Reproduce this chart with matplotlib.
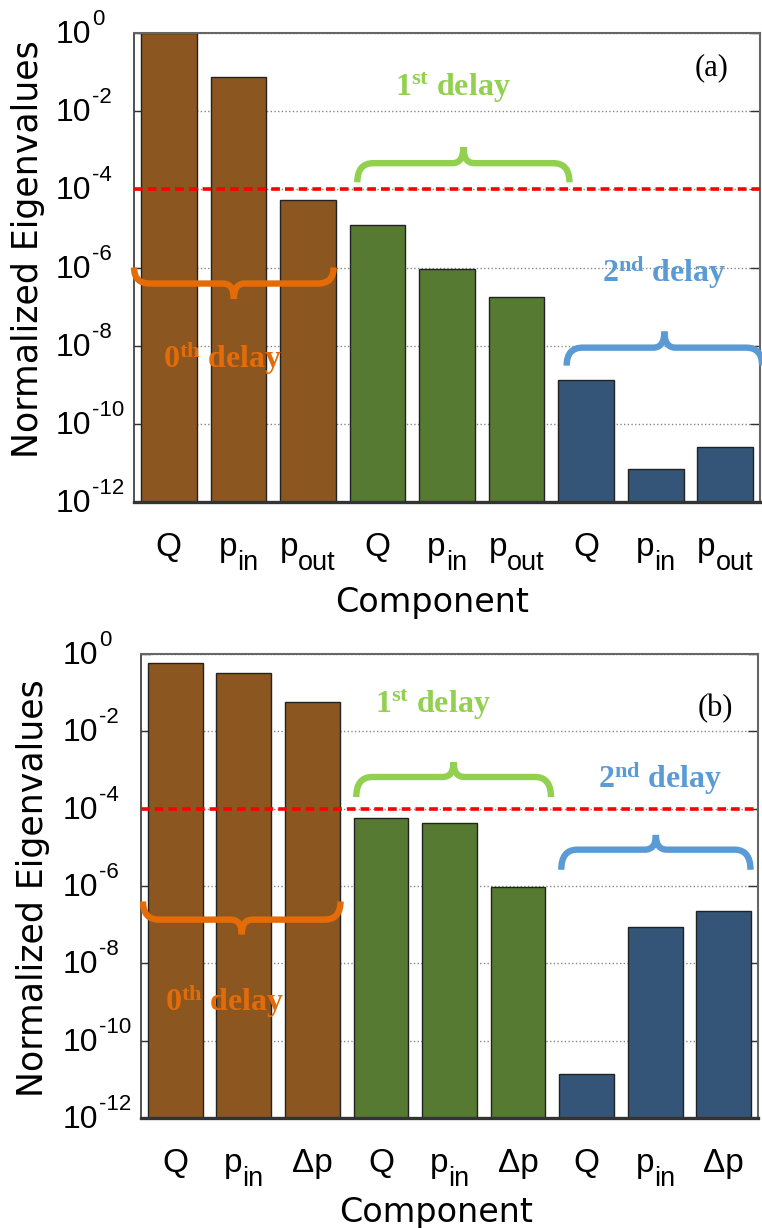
import numpy as np
import matplotlib.pyplot as plt
from matplotlib.path import Path
from matplotlib.patches import PathPatch
from matplotlib.ticker import NullLocator
from matplotlib.transforms import blended_transform_factory, offset_copy

# normalized eigenvalues per component, three delay groups of three
base_a = ['Q', 'p', 'p'] * 3
sub_a = ['', 'in', 'out'] * 3
base_b = ['Q', 'p', 'Δp'] * 3
sub_b = ['', 'in', ''] * 3
eig_a = [1.0, 7.4e-2, 5.5e-5, 1.2e-5, 9.4e-7, 1.8e-7, 1.35e-9, 7.0e-12, 2.5e-11]
eig_b = [0.6, 0.33, 0.056, 5.7e-5, 4.3e-5, 9.5e-7, 1.4e-11, 8.9e-8, 2.3e-7]
threshold = 1e-4
exponents = [0, -2, -4, -6, -8, -10, -12]

bar_colors = ['#8b561f'] * 3 + ['#577a32'] * 3 + ['#345577'] * 3
orange, lgreen, lblue = '#e36c09', '#92d050', '#5b9bd5'

SANS = 'Liberation Sans'
SERIF = 'Liberation Serif'


def brace(ax, x0, x1, y_end, y_bar, y_tip, color, r_px=16, t_px=11):
    # curly brace in data x / log10 y, drawn in axes fraction
    xmin, xmax = ax.get_xlim()
    ymin, ymax = np.log10(ax.get_ylim())
    fx = lambda x: (x - xmin) / (xmax - xmin)
    fy = lambda y: (y - ymin) / (ymax - ymin)
    bb = ax.get_position()
    w_px = bb.width * fig.get_figwidth() * fig.dpi
    rx, tx = r_px / w_px, t_px / w_px
    a, b = fx(x0), fx(x1)
    c = (a + b) / 2
    ye, yb, yt = fy(y_end), fy(y_bar), fy(y_tip)
    verts = [(a, ye), (a, yb), (a + rx, yb), (c - tx, yb), (c, yb), (c, yt),
             (c, yb), (c + tx, yb), (b - rx, yb), (b, yb), (b, ye)]
    codes = [Path.MOVETO, Path.CURVE3, Path.CURVE3, Path.LINETO, Path.CURVE3, Path.CURVE3,
             Path.CURVE3, Path.CURVE3, Path.LINETO, Path.CURVE3, Path.CURVE3]
    ax.add_patch(PathPatch(Path(verts, codes), transform=ax.transAxes, fill=False,
                           edgecolor=color, lw=4.6, capstyle='butt', clip_on=False, zorder=5))


def delay_text(ax, x, ly, n, sup, color, size=23):
    ax.text(x, 10.0 ** ly, r'$\mathregular{%s^{%s}}$ delay' % (n, sup), color=color,
            fontsize=size, fontweight='bold', family=SERIF, ha='center', va='center', zorder=6)


def tick_texts(ax, bases, subs):
    # y: "10" with a raised exponent; x: name with a lowered subscript
    ty = blended_transform_factory(ax.transAxes, ax.transData)
    for e in exponents:
        ax.text(0, 10.0 ** e, '10', family=SANS, fontsize=23, ha='right', va='baseline',
                transform=offset_copy(ty, fig=fig, x=-43, y=-10, units='dots'))
        ax.text(0, 10.0 ** e, str(e), family=SANS, fontsize=16, ha='left', va='baseline',
                transform=offset_copy(ty, fig=fig, x=-42, y=8, units='dots'))
    tx = blended_transform_factory(ax.transData, ax.transAxes)
    r = fig.canvas.get_renderer()
    for i, (b, s) in enumerate(zip(bases, subs)):
        t1 = ax.text(i, 0, b, family=SANS, fontsize=24, ha='left', va='baseline', transform=tx)
        w1 = t1.get_window_extent(r).width
        w2 = 0
        if s:
            t2 = ax.text(i, 0, s, family=SANS, fontsize=19.5, ha='left', va='baseline', transform=tx)
            w2 = t2.get_window_extent(r).width
        left = -(w1 + w2) / 2
        t1.set_transform(offset_copy(tx, fig=fig, x=left, y=-54, units='dots'))
        if s:
            t2.set_transform(offset_copy(tx, fig=fig, x=left + w1, y=-68, units='dots'))


def panel(ax, values, bases, subs, xlab_pos, ylab_pos):
    x = np.arange(len(values))
    ax.bar(x, np.array(values) - 1e-12, bottom=1e-12, width=0.8, color=bar_colors,
           edgecolor='#222222', linewidth=1, zorder=2)
    ax.set_yscale('log')
    ax.set_ylim(1e-12, 1)
    ax.set_xlim(-0.5, 8.5)
    ax.axhline(threshold, color='#ff0000', lw=2.6, ls=(0, (2.4, 1.4)), zorder=4)
    ax.set_yticks([10.0 ** e for e in exponents])
    ax.set_yticklabels([])
    ax.yaxis.set_minor_locator(NullLocator())
    ax.set_xticks(x)
    ax.set_xticklabels([])
    ax.tick_params(axis='x', length=0)
    ax.tick_params(axis='y', direction='in', length=7, width=1, right=True, colors='#333333')
    ax.yaxis.grid(True, linestyle=':', color='#888888', lw=1)
    ax.set_axisbelow(True)
    for side, lw, col in [('left', 1.2, '#333333'), ('right', 1.5, '#666666'),
                          ('top', 1.5, '#666666'), ('bottom', 2.4, '#333333')]:
        ax.spines[side].set_linewidth(lw)
        ax.spines[side].set_color(col)
    tick_texts(ax, bases, subs)
    ax.set_xlabel('Component', family='DejaVu Sans', fontsize=24)
    ax.set_ylabel('Normalized Eigenvalues', family='DejaVu Sans', fontsize=25)
    ax.xaxis.set_label_coords(*xlab_pos)
    ax.yaxis.set_label_coords(*ylab_pos)


fig = plt.figure(figsize=(7.62, 12.28), dpi=100)
ax1 = fig.add_axes([0.1759, 0.5912, 0.8215, 0.3819])
ax2 = fig.add_axes([0.185, 0.0896, 0.8098, 0.3778])

panel(ax1, eig_a, base_a, sub_a, (0.476, -0.18), (-0.142, 0.54))
panel(ax2, eig_b, base_b, sub_b, (0.478, -0.168), (-0.147, 0.496))

# (a)
brace(ax1, -0.5, 2.37, -6.0, -6.41, -6.8, orange)
brace(ax1, 2.71, 5.76, -3.82, -3.33, -2.92, lgreen)
brace(ax1, 5.72, 8.53, -8.51, -8.05, -7.64, lblue)
delay_text(ax1, 4.09, -1.41, '1', 'st', lgreen)
delay_text(ax1, 7.12, -6.13, '2', 'nd', lblue)
delay_text(ax1, 0.77, -8.33, '0', 'th', orange)
ax1.text(7.81, 10.0 ** -0.9, '(a)', family=SERIF, fontsize=22, ha='center', va='center')

# (b)
brace(ax2, -0.47, 2.41, -6.4, -6.87, -7.25, orange)
brace(ax2, 2.64, 5.48, -3.70, -3.18, -2.80, lgreen)
brace(ax2, 5.63, 8.39, -5.58, -5.06, -4.68, lblue)
delay_text(ax2, 3.75, -1.32, '1', 'st', lgreen)
delay_text(ax2, 7.08, -3.21, '2', 'nd', lblue)
delay_text(ax2, 0.72, -8.98, '0', 'th', orange)
ax2.text(7.88, 10.0 ** -1.4, '(b)', family=SERIF, fontsize=22, ha='center', va='center')

fig.savefig('out.png', dpi=100)
